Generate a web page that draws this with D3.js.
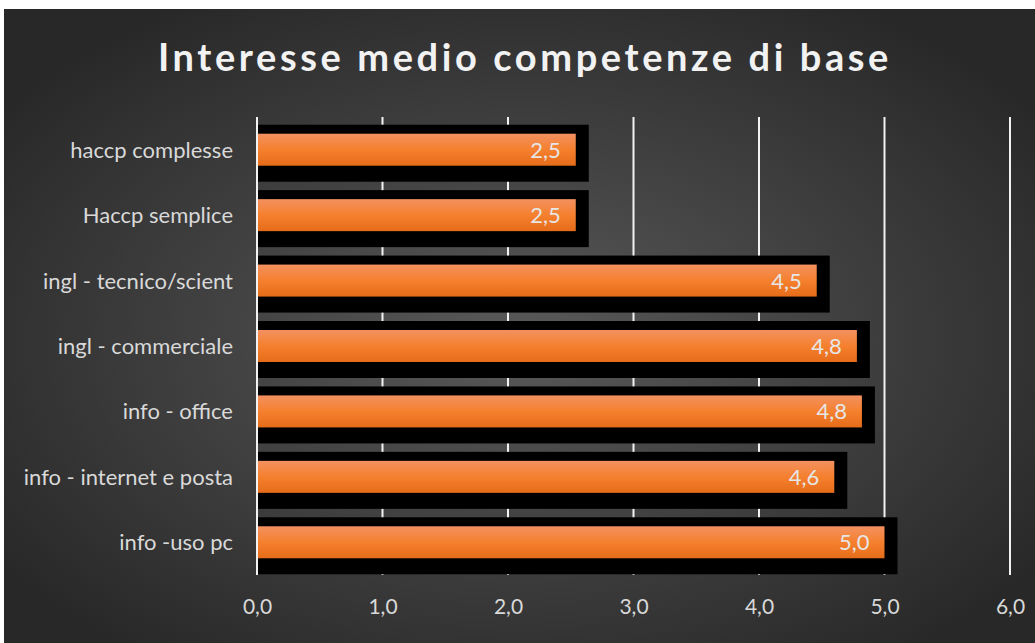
<!DOCTYPE html>
<html>
<head>
<meta charset="utf-8">
<script src="https://cdn.jsdelivr.net/npm/d3@7"></script>
<style>
  body { margin: 0; background: #fff; }
  svg { display: block; }
</style>
</head>
<body>
<div id="chart"></div>
<script>
// data
const categories = ["haccp complesse", "Haccp semplice", "ingl - tecnico/scient", "ingl - commerciale", "info - office", "info - internet e posta", "info -uso pc"];
const values = [2.54, 2.54, 4.46, 4.78, 4.82, 4.60, 5.0];
const tickValues = [0, 1, 2, 3, 4, 5, 6];

const W = 1035, H = 643;
const margin = {top: 117, right: 25, bottom: 68, left: 257};

const svg = d3.select("#chart").append("svg")
    .attr("width", W)
    .attr("height", H);

const defs = svg.append("defs");

// dark radial background
let bg = defs.append("radialGradient")
    .attr("id", "bg")
    .attr("cx", "50%").attr("cy", "52%").attr("r", "62%");
bg.append("stop").attr("offset", "0%").attr("stop-color", "#595959");
bg.append("stop").attr("offset", "100%").attr("stop-color", "#282828");

// orange bar fill
let barGrad = defs.append("linearGradient")
    .attr("id", "barGrad")
    .attr("x1", 0).attr("y1", 0).attr("x2", 0).attr("y2", 1);
barGrad.append("stop").attr("offset", "0%").attr("stop-color", "#f39160");
barGrad.append("stop").attr("offset", "50%").attr("stop-color", "#f5802e");
barGrad.append("stop").attr("offset", "100%").attr("stop-color", "#e66c19");

svg.append("rect")
    .attr("x", 4).attr("y", 9)
    .attr("width", W - 4).attr("height", H - 9)
    .attr("fill", "url(#bg)");

// title
svg.append("text")
    .attr("x", 525)
    .attr("y", 71)
    .attr("text-anchor", "middle")
    .attr("fill", "#f2f2f2")
    .style("font-family", "Lato, 'Open Sans', sans-serif")
    .style("font-weight", "bold")
    .style("font-size", "38px")
    .style("letter-spacing", "3.6px")
    .text("Interesse medio competenze di base");

const x = d3.scaleLinear()
    .domain([0, 6])
    .range([margin.left, W - margin.right]);

const y = d3.scaleBand()
    .domain(categories)
    .range([margin.top, H - margin.bottom])
    .paddingInner(0)
    .paddingOuter(0);

// gridlines
svg.append("g")
    .selectAll("line")
    .data(tickValues)
    .enter().append("line")
    .attr("x1", d => x(d)).attr("x2", d => x(d))
    .attr("y1", margin.top).attr("y2", H - margin.bottom)
    .attr("stroke", "#f2f2f2")
    .attr("stroke-width", 2);

const fmt = d => d.toFixed(1).replace(".", ",");

// x axis labels
const xAxis = d3.axisBottom(x)
    .tickValues(tickValues)
    .tickSize(0)
    .tickFormat(fmt);

let gx = svg.append("g")
    .attr("transform", `translate(0, ${H - margin.bottom + 21})`)
    .call(xAxis);
gx.select(".domain").remove();
gx.selectAll("text")
    .attr("fill", "#d9d9d9")
    .style("font-family", "Lato, 'Open Sans', sans-serif")
    .style("font-size", "21px");

const barH = 32;
const rows = categories.map((c, i) => ({cat: c, val: values[i]}));

// black shadow behind each bar
svg.append("g")
    .selectAll("rect")
    .data(rows)
    .enter().append("rect")
    .attr("x", x(0))
    .attr("y", d => y(d.cat) + y.bandwidth() / 2 - barH / 2 - 9)
    .attr("width", d => x(d.val) - x(0) + 13)
    .attr("height", barH + 25)
    .attr("fill", "#000");

// bars
svg.append("g")
    .selectAll("rect")
    .data(rows)
    .enter().append("rect")
    .attr("x", x(0))
    .attr("y", d => y(d.cat) + y.bandwidth() / 2 - barH / 2)
    .attr("width", d => x(d.val) - x(0))
    .attr("height", barH)
    .attr("fill", "url(#barGrad)");

// zero line on top
svg.append("line")
    .attr("x1", x(0)).attr("x2", x(0))
    .attr("y1", margin.top).attr("y2", H - margin.bottom)
    .attr("stroke", "#f2f2f2")
    .attr("stroke-width", 2);

// value labels
svg.append("g")
    .selectAll("text")
    .data(rows)
    .enter().append("text")
    .attr("x", d => x(d.val) - 15)
    .attr("y", d => y(d.cat) + y.bandwidth() / 2 + 8)
    .attr("text-anchor", "end")
    .attr("fill", "#e6e6e6")
    .style("font-family", "Lato, 'Open Sans', sans-serif")
    .style("font-size", "22px")
    .text(d => fmt(d.val));

// category labels
svg.append("g")
    .selectAll("text")
    .data(rows)
    .enter().append("text")
    .attr("x", margin.left - 24)
    .attr("y", d => y(d.cat) + y.bandwidth() / 2 + 8)
    .attr("text-anchor", "end")
    .attr("fill", "#d9d9d9")
    .style("font-family", "Lato, 'Open Sans', sans-serif")
    .style("font-size", "22px")
    .text(d => d.cat);
</script>
</body>
</html>
